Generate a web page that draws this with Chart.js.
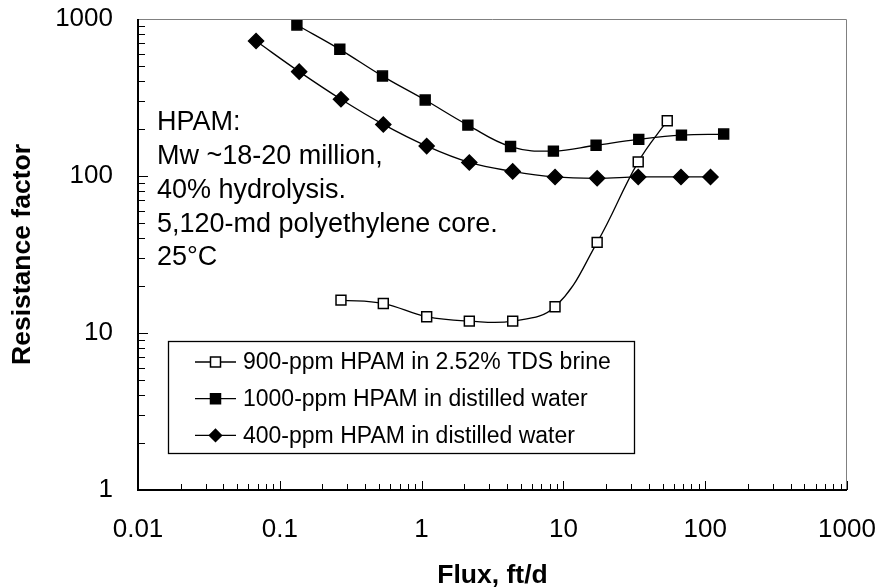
<!DOCTYPE html>
<html>
<head>
<meta charset="utf-8">
<script src="https://cdn.jsdelivr.net/npm/chart.js@4.4.1/dist/chart.umd.min.js"></script>
<style>
  html, body { margin: 0; padding: 0; background: #fff; }
  canvas { display: block; }
</style>
</head>
<body>
<canvas id="rfChart" width="880" height="587"></canvas>
<script>
const FONT = '"Liberation Sans", Arial, sans-serif';

// axis ticks
const xTickValues = [0.01, 0.1, 1, 10, 100, 1000];
const yTickValues = [1, 10, 100, 1000];

// 900-ppm HPAM in brine
const brineFlux = [0.27, 0.537, 1.086, 2.17, 4.39, 8.73, 17.3, 33.7, 54];
const brineRF = [16.2, 15.4, 12.7, 11.9, 11.9, 14.7, 37.8, 123, 225];

// 1000-ppm HPAM in distilled water
const dw1000Flux = [0.132, 0.265, 0.53, 1.06, 2.12, 4.24, 8.5, 17, 34, 68, 135];
const dw1000RF = [916, 641, 433, 305, 211, 154, 144, 157, 171, 182, 185];

// 400-ppm HPAM in distilled water
const dw400Flux = [0.068, 0.137, 0.27, 0.537, 1.086, 2.17, 4.39, 8.73, 17.3, 33.7, 67.5, 109];
const dw400RF = [724, 462, 308, 213, 155, 122, 107, 98.6, 96.7, 98.6, 98.6, 98.6];

const seriesNames = [
  '900-ppm HPAM in 2.52% TDS brine',
  '1000-ppm HPAM in distilled water',
  '400-ppm HPAM in distilled water',
];

const noteLines = [
  'HPAM:',
  'Mw ~18-20 million,',
  '40% hydrolysis.',
  '5,120-md polyethylene core.',
  '25\u00B0C',
];

const toPoints = (xs, ys) => xs.map((x, i) => ({ x, y: ys[i] }));

function drawMarker(ctx, style, filled, cx, cy) {
  ctx.beginPath();
  if (style === 'rectRot') {
    const h = 6;
    ctx.moveTo(cx - h, cy); ctx.lineTo(cx, cy - h);
    ctx.lineTo(cx + h, cy); ctx.lineTo(cx, cy + h);
    ctx.closePath();
  } else {
    const h = 5;
    ctx.rect(cx - h, cy - h, 2 * h, 2 * h);
  }
  ctx.fillStyle = filled ? '#000' : '#fff';
  ctx.fill();
  ctx.lineWidth = 1.5;
  ctx.strokeStyle = '#000';
  ctx.stroke();
}

const decorations = {
  id: 'decorations',
  afterDraw(chart) {
    const { ctx, chartArea: a, scales: { x, y } } = chart;
    ctx.save();

    // inward tick marks
    ctx.strokeStyle = '#000';
    ctx.lineWidth = 1;
    ctx.beginPath();
    for (let d = -2; d <= 3; d++) {
      for (let m = 1; m <= 9; m++) {
        if (d === 3 && m > 1) break;
        const px = Math.round(x.getPixelForValue(m * Math.pow(10, d))) + 0.5;
        const len = m === 1 ? 9 : 6;
        ctx.moveTo(px, a.bottom);
        ctx.lineTo(px, a.bottom - len);
      }
    }
    for (let d = 0; d <= 3; d++) {
      for (let m = 1; m <= 9; m++) {
        if (d === 3 && m > 1) break;
        const py = Math.round(y.getPixelForValue(m * Math.pow(10, d))) + 0.5;
        const len = m === 1 ? 10 : 7;
        ctx.moveTo(a.left, py);
        ctx.lineTo(a.left + len, py);
      }
    }
    ctx.stroke();

    // frame
    ctx.strokeStyle = '#808080';
    ctx.lineWidth = 1;
    ctx.beginPath();
    ctx.moveTo(a.left, a.top + 0.5);
    ctx.lineTo(a.right - 0.5, a.top + 0.5);
    ctx.lineTo(a.right - 0.5, a.bottom);
    ctx.stroke();
    ctx.strokeStyle = '#000';
    ctx.lineWidth = 2;
    ctx.beginPath();
    ctx.moveTo(a.left, a.top);
    ctx.lineTo(a.left, a.bottom);
    ctx.lineTo(a.right, a.bottom);
    ctx.stroke();

    // note text
    ctx.fillStyle = '#000';
    ctx.font = '27px ' + FONT;
    ctx.textAlign = 'left';
    ctx.textBaseline = 'middle';
    noteLines.forEach((line, i) => ctx.fillText(line, 157, 123 + i * 33.7));

    // legend
    const box = { left: 168.5, top: 341.5, right: 634.5, bottom: 453.5 };
    ctx.lineWidth = 1.3;
    ctx.strokeStyle = '#000';
    ctx.strokeRect(box.left, box.top, box.right - box.left, box.bottom - box.top);
    ctx.font = '23px ' + FONT;
    chart.data.datasets.forEach((ds, i) => {
      const cy = 362 + i * 36.7;
      ctx.lineWidth = 1.3;
      ctx.beginPath();
      ctx.moveTo(195, cy);
      ctx.lineTo(236, cy);
      ctx.stroke();
      drawMarker(ctx, ds.pointStyle, ds.pointBackgroundColor === '#000', 215.5, cy);
      ctx.fillStyle = '#000';
      ctx.fillText(ds.label, 243, cy + 1);
    });

    // axis titles
    ctx.font = 'bold 26.5px ' + FONT;
    ctx.textAlign = 'center';
    ctx.fillText('Flux, ft/d', (a.left + a.right) / 2, 576);
    ctx.translate(23, (a.top + a.bottom) / 2);
    ctx.rotate(-Math.PI / 2);
    ctx.fillText('Resistance factor', 0, 0);
    ctx.restore();
  },
};

const lineStyle = {
  showLine: true,
  borderColor: '#000',
  borderWidth: 1.3,
  tension: 0.4,
  pointBorderColor: '#000',
  pointBorderWidth: 1.5,
  clip: false,
};

new Chart(document.getElementById('rfChart'), {
  type: 'scatter',
  data: {
    datasets: [
      {
        ...lineStyle,
        label: seriesNames[0],
        data: toPoints(brineFlux, brineRF),
        pointStyle: 'rect',
        pointRadius: 7,
        pointBackgroundColor: '#fff',
      },
      {
        ...lineStyle,
        label: seriesNames[1],
        data: toPoints(dw1000Flux, dw1000RF),
        pointStyle: 'rect',
        pointRadius: 7,
        pointBackgroundColor: '#000',
      },
      {
        ...lineStyle,
        label: seriesNames[2],
        data: toPoints(dw400Flux, dw400RF),
        pointStyle: 'rectRot',
        pointRadius: 7.5,
        pointBackgroundColor: '#000',
      },
    ],
  },
  options: {
    responsive: false,
    animation: false,
    layout: { padding: { top: 19, right: 33, left: 0, bottom: 0 } },
    plugins: {
      legend: { display: false },
      tooltip: { enabled: false },
    },
    scales: {
      x: {
        type: 'logarithmic',
        min: 0.01,
        max: 1000,
        grid: { display: false, drawTicks: false },
        border: { display: false },
        afterBuildTicks: (s) => { s.ticks = xTickValues.map((v) => ({ value: v })); },
        afterFit: (s) => { s.height = 97; s.paddingLeft = 0; s.paddingRight = 0; },
        ticks: {
          autoSkip: false,
          maxRotation: 0,
          padding: 24,
          color: '#000',
          font: { family: FONT, size: 26 },
          callback: (v) => String(v),
        },
      },
      y: {
        type: 'logarithmic',
        min: 1,
        max: 1000,
        grid: { display: false, drawTicks: false },
        border: { display: false },
        afterBuildTicks: (s) => { s.ticks = yTickValues.map((v) => ({ value: v })); },
        afterFit: (s) => { s.width = 138; s.paddingTop = 0; s.paddingBottom = 0; },
        ticks: {
          autoSkip: false,
          padding: 25,
          color: '#000',
          font: { family: FONT, size: 26 },
          callback: (v) => String(v),
        },
      },
    },
  },
  plugins: [decorations],
});
</script>
</body>
</html>
